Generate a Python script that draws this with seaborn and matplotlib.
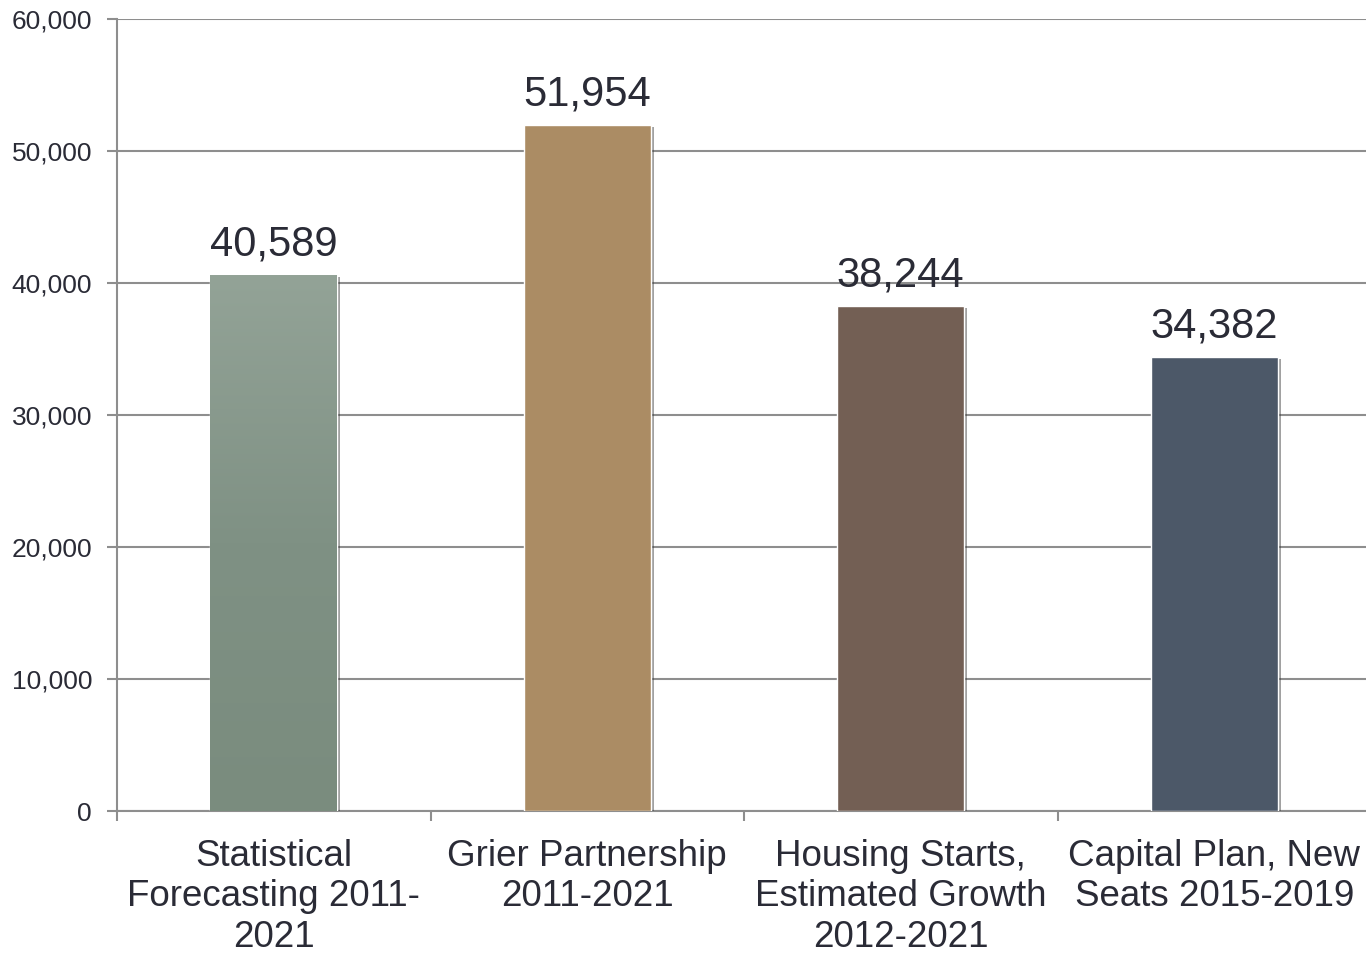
import numpy as np
import pandas as pd
import matplotlib
matplotlib.use("Agg")
import matplotlib.pyplot as plt
import matplotlib.patheffects as pe
from matplotlib.ticker import FuncFormatter, MultipleLocator
import seaborn as sns

# Enrolment growth estimates by method
categories = [
    "Statistical\nForecasting 2011-\n2021",
    "Grier Partnership\n2011-2021",
    "Housing Starts,\nEstimated Growth\n2012-2021",
    "Capital Plan, New\nSeats 2015-2019",
]
values = [40589, 51954, 38244, 34382]
bar_colors = ["#849a8b", "#ab8c64", "#735f54", "#4c5868"]

df = pd.DataFrame({"method": categories, "students": values})

sns.set_theme(style="white")
plt.rcParams["font.family"] = ["Liberation Sans", "DejaVu Sans"]

text_color = "#2a2b36"
line_color = "#8e8e8e"

fig = plt.figure(figsize=(13.66, 9.55), dpi=100)
ax = fig.add_axes([117 / 1366, 144 / 955, 1254 / 1366, 792 / 955])

sns.barplot(data=df, x="method", y="students", hue="method",
            palette=bar_colors, width=0.405, legend=False, ax=ax,
            saturation=1, zorder=3)

ax.set_xlim(-0.5, len(categories) - 0.5)
ax.set_ylim(0, 60000)
ax.yaxis.set_major_locator(MultipleLocator(10000))
ax.yaxis.set_major_formatter(FuncFormatter(lambda v, _: f"{int(v):,}"))

# soft drop shadow and a subtle gradient on the first bar
for patch in ax.patches:
    patch.set_path_effects([
        pe.SimplePatchShadow(offset=(2.2, -1.5), shadow_rgbFace="#303030", alpha=0.45),
        pe.Normal(),
    ])

first = ax.patches[0]
x0, w = first.get_x(), first.get_width()
h = first.get_height()
grad = np.linspace(0, 1, 256).reshape(-1, 1)
cmap = matplotlib.colors.LinearSegmentedColormap.from_list(
    "sage", ["#7a8c7e", "#7f9184", "#93a397"])
img = ax.imshow(grad, extent=[x0, x0 + w, 0, h], origin="lower",
                cmap=cmap, aspect="auto", zorder=3.5)
img.set_clip_path(first)

# value labels above bars
for patch, v in zip(ax.patches, values):
    ax.annotate(f"{v:,}", (patch.get_x() + patch.get_width() / 2, v),
                xytext=(0, 8), textcoords="offset points",
                ha="center", va="bottom", fontsize=30, color=text_color,
                zorder=5)

# axes styling
ax.grid(axis="y", color=line_color, linewidth=1.5, zorder=0)
ax.grid(axis="x", visible=False)
for side in ["top", "right"]:
    ax.spines[side].set_visible(False)
for side in ["left", "bottom"]:
    ax.spines[side].set_color(line_color)
    ax.spines[side].set_linewidth(1.5)

ax.set_xlabel("")
ax.set_ylabel("")
ax.set_xticks(range(len(categories)))
ax.set_xticklabels(categories, fontsize=26.5, color=text_color,
                   linespacing=1.2)
ax.set_xticks(np.arange(-0.5, len(categories), 1.0), minor=True)
ax.tick_params(axis="x", which="major", length=0, pad=20)
ax.tick_params(axis="x", which="minor", length=7, width=1.5,
               color=line_color, direction="out", bottom=True)
ax.tick_params(axis="y", which="major", length=7, width=1.5,
               color=line_color, direction="out", left=True,
               labelsize=19, labelcolor=text_color, pad=11)

fig.savefig("out.png", dpi=100)
